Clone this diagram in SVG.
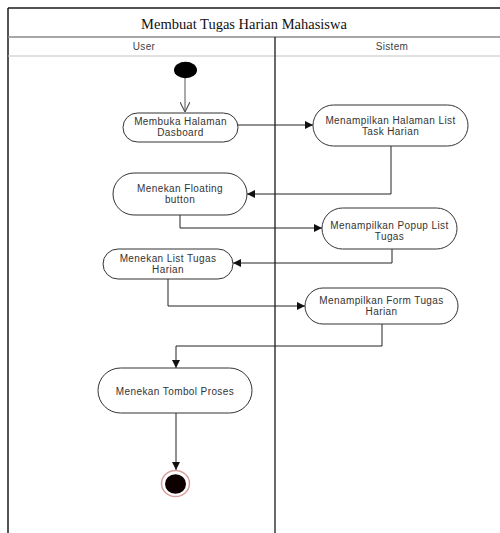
<svg xmlns="http://www.w3.org/2000/svg" width="500" height="533" viewBox="0 0 500 533">
  <style>
    .frame { stroke: #1a1a1a; stroke-width: 1.5; fill: none; }
    .sep { stroke: #8a8a8a; stroke-width: 1.6; fill: none; }
    .sep2 { stroke: #c4c4c4; stroke-width: 1.2; fill: none; }
    .lane { stroke: #1a1a1a; stroke-width: 1.3; fill: none; }
    .title { font-family: "Liberation Serif", serif; font-size: 14.5px; fill: #111; text-anchor: middle; }
    .lanelbl { font-family: "Liberation Sans", Arial, sans-serif; font-size: 10px; fill: #444; text-anchor: middle; letter-spacing: 0.3px; }
    .act rect { fill: #fff; stroke: #333; stroke-width: 1; }
    .act text { font-family: "Liberation Sans", Arial, sans-serif; font-size: 10px; fill: #333; text-anchor: middle; letter-spacing: 0.4px; }
    .edge { stroke: #222; stroke-width: 1; fill: none; marker-end: url(#arrow); }
  </style>
  <defs>
    <marker id="arrow" viewBox="0 0 10 10" refX="10" refY="5" markerWidth="8" markerHeight="8" markerUnits="userSpaceOnUse" orient="auto">
      <path d="M0,0 L10,5 L0,10 Z" fill="#111"/>
    </marker>
    <marker id="open" viewBox="0 0 10 10" refX="10" refY="5" markerWidth="10" markerHeight="10" markerUnits="userSpaceOnUse" orient="auto">
      <path d="M0,0 L10,5 L0,10" fill="none" stroke="#555" stroke-width="1.2"/>
    </marker>
  </defs>

  <rect width="500" height="533" fill="#fff"/>

  <!-- swimlane frame -->
  <g id="frame">
    <line class="frame" x1="8" y1="8" x2="500" y2="8"/>
    <line class="frame" x1="8" y1="8" x2="8" y2="533"/>
    <line class="sep" x1="8" y1="37" x2="500" y2="37"/>
    <line class="sep2" x1="8" y1="56" x2="500" y2="56"/>
    <line class="lane" x1="275" y1="37" x2="275" y2="533"/>
    <text class="title" x="244" y="29">Membuat Tugas Harian Mahasiswa</text>
    <text class="lanelbl" x="144" y="50">User</text>
    <text class="lanelbl" x="392" y="50">Sistem</text>
  </g>

  <!-- connectors -->
  <g id="connectors">
    <line x1="185" y1="78" x2="185" y2="112" stroke="#555" stroke-width="1" marker-end="url(#open)"/>
    <path class="edge" d="M238,125 H313"/>
    <path class="edge" d="M391,146 V194 H247"/>
    <path class="edge" d="M180,215 V228 H322"/>
    <path class="edge" d="M392,249 V263 H233"/>
    <path class="edge" d="M168,279 V306 H305"/>
    <path class="edge" d="M382,324 V346 H176 V368"/>
    <path class="edge" d="M176,413 V470"/>
  </g>

  <!-- start node -->
  <g id="start">
    <ellipse cx="185.5" cy="70" rx="11.5" ry="8.2" fill="#000"/>
  </g>

  <g id="n1" class="act">
    <rect x="123" y="113" width="115" height="29" rx="14.5"/>
    <text x="180.5" y="125.3">Membuka Halaman</text>
    <text x="180.5" y="136.3">Dasboard</text>
  </g>

  <g id="n2" class="act">
    <rect x="313" y="105" width="155" height="41" rx="20.5"/>
    <text x="390.5" y="124.3">Menampilkan Halaman List</text>
    <text x="390.5" y="135.3">Task Harian</text>
  </g>

  <g id="n3" class="act">
    <rect x="113" y="173" width="134" height="42" rx="21"/>
    <text x="180" y="192.4">Menekan Floating</text>
    <text x="180" y="203.4">button</text>
  </g>

  <g id="n4" class="act">
    <rect x="322" y="208" width="135" height="41" rx="20.5"/>
    <text x="389.5" y="228.6">Menampilkan Popup List</text>
    <text x="389.5" y="239.6">Tugas</text>
  </g>

  <g id="n5" class="act">
    <rect x="103" y="249" width="130" height="30" rx="15"/>
    <text x="168" y="262">Menekan List Tugas</text>
    <text x="168" y="273">Harian</text>
  </g>

  <g id="n6" class="act">
    <rect x="305" y="288" width="153" height="36" rx="18"/>
    <text x="381.5" y="304">Menampilkan Form Tugas</text>
    <text x="381.5" y="315">Harian</text>
  </g>

  <g id="n7" class="act">
    <rect x="98" y="368" width="154" height="45" rx="22.5"/>
    <text x="175" y="394.5">Menekan Tombol Proses</text>
  </g>

  <!-- final node -->
  <g id="end">
    <ellipse cx="175.5" cy="483.5" rx="14" ry="13" fill="#fff" stroke="#d9a0a0" stroke-width="1.5"/>
    <ellipse cx="175.5" cy="484" rx="10.5" ry="9.8" fill="#0c0000"/>
  </g>
</svg>
